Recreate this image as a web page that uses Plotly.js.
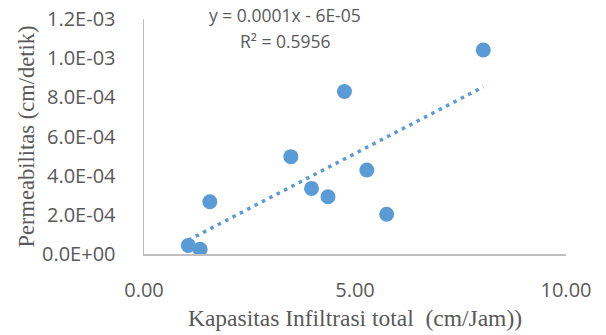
<!DOCTYPE html>
<html>
<head>
<meta charset="utf-8">
<script src="https://cdn.plot.ly/plotly-3.0.1.min.js"></script>
<style>html,body{margin:0;padding:0;background:#fff;}#chart{width:606px;height:335px;}</style>
</head>
<body>
<div id="chart"></div>
<script>
// Data
const infiltrasi = [1.05, 1.33, 1.56, 3.48, 3.97, 4.36, 4.75, 5.28, 5.75, 8.04];
const permeabilitas = [4.4e-5, 2.4e-5, 2.67e-4, 4.97e-4, 3.35e-4, 2.92e-4, 8.3e-4, 4.29e-4, 2.03e-4, 1.042e-3];
const xTickVals = [0, 5, 10];
const xTickText = ["0.00", "5.00", "10.00"];
const yTickVals = [0, 2e-4, 4e-4, 6e-4, 8e-4, 1e-3, 1.2e-3];
const yTickText = ["0.0E+00", "2.0E-04", "4.0E-04", "6.0E-04", "8.0E-04", "1.0E-03", "1.2E-03"];
const eqText = "y = 0.0001x - 6E-05";
const r2Text = "R² = 0.5956";

// Least-squares linear trendline over the data range
const n = infiltrasi.length;
const mx = infiltrasi.reduce((a, b) => a + b, 0) / n;
const my = permeabilitas.reduce((a, b) => a + b, 0) / n;
let sxy = 0, sxx = 0;
for (let i = 0; i < n; i++) { sxy += (infiltrasi[i] - mx) * (permeabilitas[i] - my); sxx += (infiltrasi[i] - mx) ** 2; }
const slope = sxy / sxx, intercept = my - slope * mx;
const xMin = Math.min(...infiltrasi), xMax = Math.max(...infiltrasi);
const trendX = [xMin, xMax];
const trendY = trendX.map(v => slope * v + intercept);

const blue = "#5B9BD5";
const grey = "#595959";
const tickFont = {family: "Open Sans, sans-serif", size: 20, color: grey};
const titleFont = {family: "Liberation Serif, Times New Roman, serif", size: 23.5, color: grey};

const traces = [
  {x: trendX, y: trendY, type: "scatter", mode: "lines",
   line: {color: blue, width: 3.5, dash: "3.5px,4.8px"}, hoverinfo: "skip", showlegend: false},
  {x: infiltrasi, y: permeabilitas, type: "scatter", mode: "markers",
   marker: {color: blue, size: 15, line: {width: 0}}, showlegend: false}
];

const layout = {
  width: 606, height: 335,
  margin: {l: 144, r: 40, t: 19, b: 81, pad: 0},
  paper_bgcolor: "#fff", plot_bgcolor: "#fff",
  showlegend: false,
  xaxis: {
    range: [0, 10], tickvals: xTickVals, ticktext: xTickText,
    showgrid: false, zeroline: false, showline: true, linecolor: "#BFBFBF", linewidth: 1.5,
    ticks: "outside", ticklen: 17, tickcolor: "rgba(0,0,0,0)", tickfont: tickFont,
    title: {text: "Kapasitas Infiltrasi total  (cm/Jam))", font: titleFont, standoff: 8}
  },
  yaxis: {
    range: [0, 1.2e-3], tickvals: yTickVals, ticktext: yTickText,
    showgrid: false, zeroline: false, showline: true, linecolor: "#BFBFBF", linewidth: 1.5,
    ticks: "outside", ticklen: 23, tickcolor: "rgba(0,0,0,0)", tickfont: tickFont,
    title: {text: "Permeabilitas (cm/detik)", font: {family: "Liberation Serif, Times New Roman, serif", size: 22.5, color: grey}, standoff: 1}
  },
  annotations: [
    {xref: "paper", yref: "paper", x: (285 - 144) / 422, y: 1 + (19 - 15) / 235, text: eqText,
     showarrow: false, xanchor: "center", yanchor: "middle", font: {family: "Open Sans, sans-serif", size: 17.5, color: grey}},
    {xref: "paper", yref: "paper", x: (285 - 144) / 422, y: 1 - (41 - 19) / 235, text: r2Text,
     showarrow: false, xanchor: "center", yanchor: "middle", font: {family: "Open Sans, sans-serif", size: 17.5, color: grey}}
  ]
};

Plotly.newPlot("chart", traces, layout, {displayModeBar: false, staticPlot: true});
</script>
</body>
</html>
